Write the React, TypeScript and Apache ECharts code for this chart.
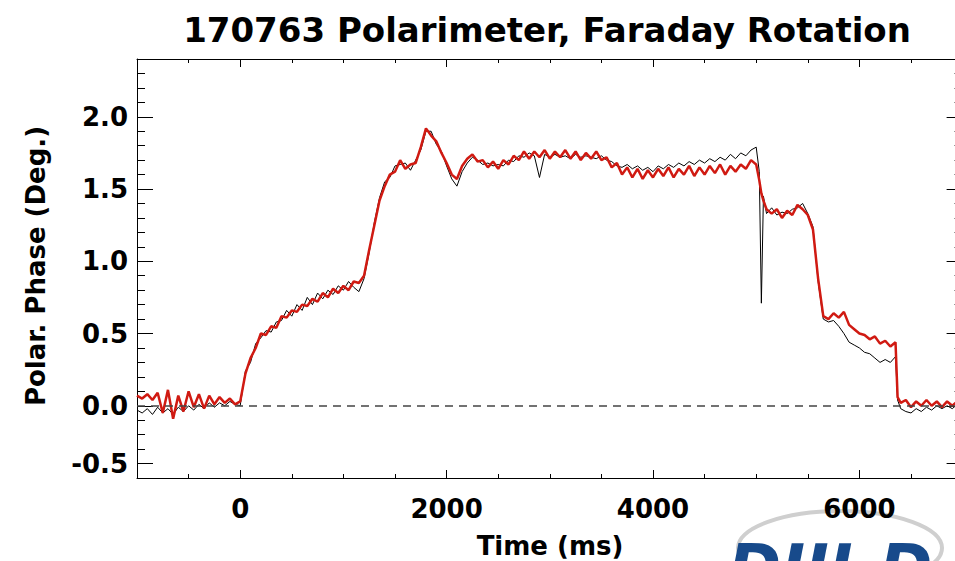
import React, { useEffect, useRef } from "react";
import * as echarts from "echarts";

const TITLE = "170763 Polarimeter, Faraday Rotation";
const Y_NAME = "Polar. Phase (Deg.)";
const X_NAME = "Time (ms)";
const LOGO_TEXT = "DIII-D";

const X_MIN = -1000;
const X_MAX = 7000;
const Y_MIN = -0.5;
const Y_MAX = 2.4;
const X_MAJOR = [0, 2000, 4000, 6000];
const Y_MAJOR = [-0.4, 0, 0.5, 1.0, 1.5, 2.0];
const Y_MAJOR_LABELS = ["-0.5", "0.0", "0.5", "1.0", "1.5", "2.0"];

const times = [
  -1000, -950, -900, -850, -800, -750, -700, -650, -600, -550,
  -500, -450, -400, -350, -300, -250, -200, -150, -100, -50,
  0, 50, 100, 150, 200, 250, 300, 350, 400, 450,
  500, 550, 600, 650, 700, 750, 800, 850, 900, 950,
  1000, 1050, 1100, 1150, 1200, 1250, 1300, 1350, 1400, 1450,
  1500, 1550, 1600, 1650, 1700, 1750, 1800, 1850, 1900, 1950,
  2000, 2050, 2100, 2150, 2200, 2250, 2300, 2350, 2400, 2450,
  2500, 2550, 2600, 2650, 2700, 2750, 2800, 2850, 2900, 2950,
  3000, 3050, 3100, 3150, 3200, 3250, 3300, 3350, 3400, 3450,
  3500, 3550, 3600, 3650, 3700, 3750, 3800, 3850, 3900, 3950,
  4000, 4050, 4100, 4150, 4200, 4250, 4300, 4350, 4400, 4450,
  4500, 4550, 4600, 4650, 4700, 4750, 4800, 4850, 4900, 4950,
  5000, 5030, 5050, 5070, 5100, 5150, 5200, 5250, 5300, 5350,
  5400, 5450, 5500, 5550, 5600, 5650, 5700, 5750, 5800, 5850,
  5900, 5950, 6000, 6050, 6100, 6150, 6200, 6250, 6300, 6350,
  6370, 6400, 6450, 6500, 6550, 6600, 6650, 6700, 6750, 6800,
  6850, 6900, 6950, 7000,
];

const redPhase = [
  0.07, 0.05, 0.08, 0.04, 0.09, -0.05, 0.11, -0.09, 0.07, -0.04,
  0.10, -0.01, 0.08, -0.02, 0.07, 0.01, 0.06, 0.02, 0.05, 0.01,
  0.03, 0.22, 0.33, 0.40, 0.50, 0.49, 0.55, 0.54, 0.62, 0.61,
  0.66, 0.65, 0.70, 0.69, 0.74, 0.72, 0.78, 0.75, 0.81, 0.78,
  0.83, 0.80, 0.86, 0.85, 0.90, 1.08, 1.25, 1.42, 1.52, 1.60,
  1.62, 1.70, 1.64, 1.67, 1.68, 1.79, 1.92, 1.87, 1.83, 1.75,
  1.68, 1.60, 1.57, 1.66, 1.71, 1.74, 1.69, 1.70, 1.65, 1.69,
  1.64, 1.70, 1.67, 1.73, 1.70, 1.76, 1.71, 1.76, 1.72, 1.77,
  1.71, 1.76, 1.72, 1.77, 1.71, 1.76, 1.70, 1.75, 1.71, 1.76,
  1.70, 1.72, 1.65, 1.68, 1.60, 1.65, 1.58, 1.64, 1.57, 1.63,
  1.58, 1.64, 1.59, 1.65, 1.58, 1.64, 1.60, 1.66, 1.59, 1.65,
  1.60, 1.66, 1.61, 1.67, 1.60, 1.66, 1.62, 1.67, 1.64, 1.70,
  1.67, 1.56, 1.47, 1.42, 1.36, 1.33, 1.36, 1.30, 1.35, 1.32,
  1.39, 1.36, 1.32, 1.22, 0.88, 0.62, 0.60, 0.64, 0.61, 0.65,
  0.56, 0.53, 0.50, 0.49, 0.46, 0.48, 0.43, 0.45, 0.41, 0.44,
  0.06, 0.02, 0.04, -0.01, 0.03, 0.00, 0.04, 0.00, 0.03, -0.01,
  0.03, 0.00, 0.03, 0.01,
];

const blackPhase = [
  -0.03, -0.05, -0.02, -0.06, -0.01, -0.05, -0.02, -0.06, -0.01, -0.04,
  0.00, -0.03, 0.01, -0.02, 0.02, -0.01, 0.02, 0.00, 0.03, 0.01,
  0.00, 0.24, 0.30, 0.43, 0.47, 0.52, 0.51, 0.58, 0.59, 0.66,
  0.62, 0.70, 0.66, 0.75, 0.70, 0.78, 0.74, 0.80, 0.77, 0.83,
  0.80, 0.86, 0.82, 0.79, 0.88, 1.06, 1.27, 1.44, 1.55, 1.58,
  1.66, 1.67, 1.68, 1.63, 1.70, 1.77, 1.90, 1.90, 1.81, 1.76,
  1.66, 1.57, 1.52, 1.62, 1.68, 1.72, 1.70, 1.67, 1.68, 1.66,
  1.67, 1.66, 1.70, 1.69, 1.73, 1.72, 1.75, 1.73, 1.58, 1.74,
  1.72, 1.74, 1.72, 1.73, 1.71, 1.74, 1.72, 1.73, 1.72, 1.71,
  1.73, 1.70, 1.69, 1.66, 1.65, 1.67, 1.64, 1.66, 1.63, 1.65,
  1.62, 1.66, 1.64, 1.67, 1.65, 1.68, 1.66, 1.69, 1.67, 1.70,
  1.68, 1.71, 1.69, 1.72, 1.70, 1.74, 1.71, 1.75, 1.73, 1.77,
  1.79, 1.62, 0.71, 1.45, 1.33, 1.37, 1.32, 1.34, 1.33, 1.36,
  1.37, 1.40, 1.33, 1.24, 0.86, 0.60, 0.58, 0.59, 0.55, 0.50,
  0.44, 0.42, 0.40, 0.37, 0.36, 0.33, 0.30, 0.32, 0.30, 0.34,
  0.04, -0.02, -0.04, -0.05, -0.02, -0.04, -0.01, -0.03, 0.00, -0.02,
  0.00, -0.02, 0.01, -0.01,
];

const FONT = "DejaVu Sans";
const AXIS_COLOR = "#000";

export default function App() {
  const ref = useRef<HTMLDivElement>(null);

  useEffect(() => {
    if (!ref.current) return;
    const chart = echarts.init(ref.current, undefined, { renderer: "svg" });

    const axisLine = { show: true, onZero: false, lineStyle: { color: AXIS_COLOR, width: 1 } };
    const noLine = { show: false, onZero: false };
    const labelStyle = { fontSize: 26, fontWeight: "bold", fontFamily: FONT, color: "#000" };

    const xBase = { type: "value", min: X_MIN, max: X_MAX, splitLine: { show: false } };
    const yBase = { type: "value", min: Y_MIN, max: Y_MAX, splitLine: { show: false } };

    const fmtY = (v: number) => {
      const i = Y_MAJOR.findIndex((m) => Math.abs(m - v) < 1e-6);
      return i >= 0 ? Y_MAJOR_LABELS[i] : "";
    };

    chart.setOption({
      animation: false,
      backgroundColor: "#fff",
      grid: { left: 137, top: 59, width: 825.6, height: 419 },
      xAxis: [
        {
          ...xBase, position: "bottom", interval: 500, axisLine,
          axisTick: { inside: true, length: 4, lineStyle: { color: AXIS_COLOR } },
          axisLabel: { show: false },
        },
        {
          ...xBase, position: "bottom", axisLine: noLine,
          axisTick: { inside: true, length: 8, customValues: X_MAJOR, lineStyle: { color: AXIS_COLOR } },
          axisLabel: { ...labelStyle, margin: 18, customValues: X_MAJOR, formatter: (v: number) => String(v) },
        },
        {
          ...xBase, position: "top", interval: 500, axisLine,
          axisTick: { inside: true, length: 4, lineStyle: { color: AXIS_COLOR } },
          axisLabel: { show: false },
        },
        {
          ...xBase, position: "top", axisLine: noLine,
          axisTick: { inside: true, length: 8, customValues: X_MAJOR, lineStyle: { color: AXIS_COLOR } },
          axisLabel: { show: false },
        },
      ],
      yAxis: [
        {
          ...yBase, position: "left", interval: 0.1, axisLine,
          axisTick: { inside: true, length: 8, lineStyle: { color: AXIS_COLOR } },
          axisLabel: { show: false },
        },
        {
          ...yBase, position: "left", axisLine: noLine,
          axisTick: { inside: true, length: 16, customValues: Y_MAJOR, lineStyle: { color: AXIS_COLOR } },
          axisLabel: { ...labelStyle, margin: 9, customValues: Y_MAJOR, formatter: fmtY },
        },
        {
          ...yBase, position: "right", interval: 0.1, axisLine,
          axisTick: { inside: true, length: 8, lineStyle: { color: AXIS_COLOR } },
          axisLabel: { show: false },
        },
        {
          ...yBase, position: "right", axisLine: noLine,
          axisTick: { inside: true, length: 16, customValues: Y_MAJOR, lineStyle: { color: AXIS_COLOR } },
          axisLabel: { show: false },
        },
      ],
      series: [
        {
          name: "Black",
          type: "line",
          xAxisIndex: 0,
          yAxisIndex: 0,
          data: times.map((t, i) => [t, blackPhase[i]]),
          symbol: "none",
          lineStyle: { color: "#000", width: 1 },
          z: 2,
          markLine: {
            silent: true,
            symbol: "none",
            label: { show: false },
            lineStyle: { color: "#444", width: 1.5, type: [8, 6] },
            data: [{ yAxis: 0 }],
          },
        },
        {
          name: "Red",
          type: "line",
          xAxisIndex: 0,
          yAxisIndex: 0,
          data: times.map((t, i) => [t, redPhase[i]]),
          symbol: "none",
          lineStyle: { color: "#d01a12", width: 2.5 },
          z: 3,
        },
      ],
      graphic: [
        {
          type: "text", x: 547, y: 30,
          style: { text: TITLE, fontSize: 34, fontWeight: "bold", fontFamily: FONT, fill: "#000", align: "center", verticalAlign: "middle" },
        },
        {
          type: "text", x: 36, y: 266, rotation: Math.PI / 2,
          style: { text: Y_NAME, fontSize: 26, fontWeight: "bold", fontFamily: FONT, fill: "#000", align: "center", verticalAlign: "middle" },
        },
        {
          type: "text", x: 550, y: 546,
          style: { text: X_NAME, fontSize: 26, fontWeight: "bold", fontFamily: FONT, fill: "#000", align: "center", verticalAlign: "middle" },
        },
        {
          type: "ellipse", z: -1,
          shape: { cx: 840, cy: 548, rx: 102, ry: 37 },
          style: { fill: "none", stroke: "#cfcfcf", lineWidth: 4 },
        },
        {
          type: "text", x: 728, y: 536,
          style: { text: LOGO_TEXT, fontSize: 64, fontWeight: "bold", fontStyle: "italic", fontFamily: FONT, fill: "#174a8b", align: "left", verticalAlign: "top" },
        },
      ],
    });

    return () => chart.dispose();
  }, []);

  return (
    <div style={{ position: "fixed", left: 0, top: 0, width: 955, height: 561, overflow: "hidden", background: "#fff" }}>
      <div ref={ref} style={{ width: 970, height: 561 }} />
    </div>
  );
}
